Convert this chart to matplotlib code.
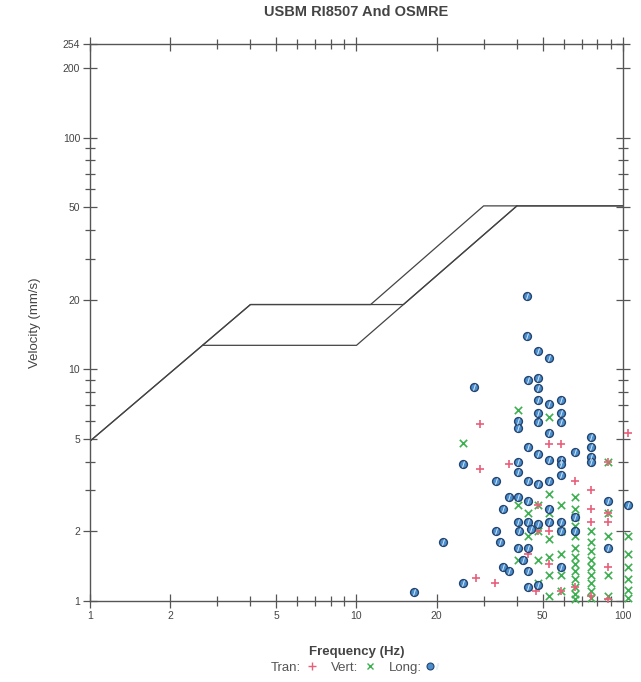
import matplotlib
matplotlib.use("Agg")
import matplotlib.pyplot as plt
import numpy as np
from matplotlib.lines import Line2D
from matplotlib.legend_handler import HandlerTuple

plt.rcParams['font.family'] = ['Liberation Sans', 'DejaVu Sans']

# limit curves (Hz, mm/s)
usbm_f = [1, 4.0, 15.0, 40.0, 100]
usbm_v = [4.9, 19.05, 19.05, 50.8, 50.8]
plaster_f = [2.65, 10.0, 40.0]
plaster_v = [12.7, 12.7, 50.8]
osmre_f = [1, 4.0, 11.3, 30.0, 100]
osmre_v = [4.9, 19.05, 19.05, 50.8, 50.8]

# Long (longitudinal) peaks
long_f = [43.6, 43.6, 47.9, 52.7, 27.5, 44.0, 47.9, 47.9, 47.9, 52.7, 58.5, 40.3,
          40.3, 47.9, 47.9, 58.5, 58.5, 52.7, 75.9, 75.9, 75.9, 44.0, 47.9, 52.7,
          58.5, 66.0, 25.0, 40.3, 40.3, 33.3, 44.0, 47.9, 52.7, 58.5, 58.5, 75.9,
          37.3, 40.3, 35.4, 44.0, 52.7, 58.5, 66.0, 66.0, 87.9, 33.3, 34.5, 40.3,
          44.0, 47.9, 40.8, 45.0, 40.3, 44.0, 52.7, 58.5, 87.9, 35.4, 37.3, 44.0,
          42.0, 58.5, 25.0, 44.0, 47.9, 21.1, 16.5, 104.0]
long_v = [20.8, 14.0, 12.0, 11.2, 8.4, 9.0, 9.2, 8.3, 7.4, 7.1, 7.4, 6.0,
          5.6, 6.5, 5.9, 6.5, 5.9, 5.3, 5.1, 4.6, 4.2, 4.6, 4.3, 4.05,
          4.05, 4.4, 3.9, 4.0, 3.6, 3.3, 3.3, 3.2, 3.3, 3.5, 3.9, 4.0,
          2.8, 2.8, 2.5, 2.7, 2.5, 2.2, 2.3, 2.0, 2.7, 2.0, 1.8, 2.2,
          2.2, 2.15, 2.0, 2.05, 1.7, 1.7, 2.2, 2.0, 1.7, 1.4, 1.35, 1.35,
          1.5, 1.4, 1.2, 1.15, 1.17, 1.8, 1.09, 2.6]

# Vert peaks
vert_f = [40.3, 25.0, 52.7,
          66.0, 66.0, 66.0, 66.0, 66.0, 66.0, 66.0, 66.0, 66.0, 66.0, 66.0, 66.0, 66.0,
          75.9, 75.9, 75.9, 75.9, 75.9, 75.9, 75.9, 75.9, 75.9,
          58.5, 58.5, 58.5, 58.5, 58.5,
          52.7, 52.7, 52.7, 52.7, 52.7, 52.7,
          47.9, 47.9, 47.9, 47.9, 44.0, 44.0, 40.3, 40.3,
          87.9, 87.9, 87.9, 87.9, 87.9,
          104.0, 104.0, 104.0, 104.0, 104.0, 104.0]
vert_v = [6.7, 4.8, 6.2,
          2.8, 2.5, 2.3, 2.1, 1.9, 1.7, 1.55, 1.45, 1.35, 1.25, 1.15, 1.07, 1.02,
          2.0, 1.8, 1.65, 1.5, 1.4, 1.3, 1.2, 1.1, 1.03,
          2.6, 2.0, 1.6, 1.3, 1.1,
          2.9, 2.4, 1.85, 1.55, 1.3, 1.05,
          2.6, 2.0, 1.5, 1.2, 2.4, 1.9, 2.6, 1.5,
          4.0, 2.4, 1.9, 1.3, 1.05,
          1.9, 1.6, 1.4, 1.25, 1.12, 1.03]

# Tran peaks
tran_f = [29.0, 52.7, 58.5, 29.0, 37.3, 66.0, 75.9, 47.9, 47.9, 52.7, 87.9,
          75.9, 75.9, 87.9, 87.9, 87.9, 28.2, 33.0, 47.0, 58.5, 66.0, 75.9,
          87.9, 44.0, 52.7, 104.0]
tran_v = [5.8, 4.75, 4.75, 3.7, 3.9, 3.3, 3.0, 2.6, 2.0, 2.0, 4.0,
          2.5, 2.2, 2.4, 2.2, 1.4, 1.26, 1.2, 1.1, 1.1, 1.15, 1.05,
          1.02, 1.6, 1.45, 5.3]

x_ticks = [1, 2, 5, 10, 20, 50, 100]
y_ticks = [1, 2, 5, 10, 20, 50, 100, 200, 254]

fig = plt.figure(figsize=(6.41, 6.82), dpi=100)
ax = fig.add_axes([0.1404, 0.1188, 0.8315, 0.8167])
ax.set_xscale('log')
ax.set_yscale('log')
ax.set_xlim(1, 100)
ax.set_ylim(1, 254)

lc = '#444444'
ax.plot(usbm_f, usbm_v, color=lc, lw=0.9, zorder=2)
ax.plot(plaster_f, plaster_v, color=lc, lw=0.9, zorder=2)
ax.plot(osmre_f, osmre_v, color=lc, lw=0.9, zorder=2)

long_c = '#4a8fcf'
tran_c = '#e8607a'
vert_c = '#3cb050'
ax.scatter(vert_f, vert_v, marker='x', s=28, color=vert_c, linewidths=1.2, zorder=3, clip_on=False)
ax.scatter(tran_f, tran_v, marker='+', s=38, color=tran_c, linewidths=1.2, zorder=3, clip_on=False)
ax.scatter(long_f, long_v, marker='o', s=32, facecolor=long_c, edgecolor='#24446e',
           linewidths=1.0, zorder=4, clip_on=False)
ax.scatter(long_f, long_v, marker='$/$', s=18, color='#e8f0f8', linewidths=0.2, zorder=5, clip_on=False)

ax.set_xticks(x_ticks)
ax.set_xticklabels([str(t) for t in x_ticks])
ax.set_xticks([3, 4, 6, 7, 8, 9, 30, 40, 60, 70, 80, 90], minor=True)
ax.xaxis.set_minor_formatter(matplotlib.ticker.NullFormatter())
ax.set_yticks(y_ticks)
ax.set_yticklabels([str(t) for t in y_ticks])
ax.set_yticks([3, 4, 6, 7, 8, 9, 30, 40, 60, 70, 80, 90], minor=True)
ax.yaxis.set_minor_formatter(matplotlib.ticker.NullFormatter())

for sp in ax.spines.values():
    sp.set_color('#555555')
    sp.set_linewidth(1.0)
ax.tick_params(which='both', direction='inout', top=True, right=True,
               color='#555555', labelsize=7.5, labelcolor='#444444', width=0.9)
ax.tick_params(which='major', length=10, pad=2)
ax.tick_params(which='minor', length=7)

fig.text(0.556, 0.982, 'USBM RI8507 And OSMRE', fontsize=10.5, fontweight='bold',
         color='#444444', ha='center', va='center')
fig.text(0.556, 0.044, 'Frequency (Hz)', fontsize=9.5, fontweight='bold',
         color='#444444', ha='center', va='center')
fig.text(0.055, 0.527, 'Velocity (mm/s)', fontsize=9.5, color='#444444',
         ha='center', va='center', rotation=90)

long_h = (Line2D([], [], ls='none', marker='o', ms=5, mfc=long_c, mec='#24446e', mew=0.8),
          Line2D([], [], ls='none', marker='$/$', ms=4, color='#e8f0f8'))
handles = [Line2D([], [], ls='none', marker='+', color=tran_c, ms=6),
           Line2D([], [], ls='none', marker='x', color=vert_c, ms=5),
           long_h]
fig.legend(handles, ['Tran:', 'Vert:', 'Long:'], loc='center', bbox_to_anchor=(0.554, 0.021),
           ncol=3, frameon=False, markerfirst=False, fontsize=9.5, handlelength=1.0,
           handletextpad=0.4, columnspacing=0.9, labelcolor='#555555',
           borderpad=0, handler_map={tuple: HandlerTuple(ndivide=None, pad=0)})

fig.savefig('out.png', dpi=100, facecolor='white')
